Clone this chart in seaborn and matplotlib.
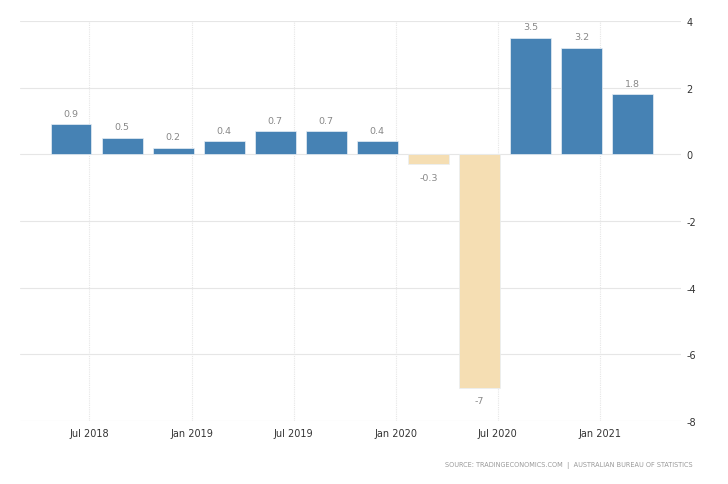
import matplotlib
matplotlib.use("Agg")
import matplotlib.pyplot as plt
import seaborn as sns
import pandas as pd

quarters = ["2018-06", "2018-09", "2018-12", "2019-03", "2019-06", "2019-09",
            "2019-12", "2020-03", "2020-06", "2020-09", "2020-12", "2021-03"]
values = [0.9, 0.5, 0.2, 0.4, 0.7, 0.7, 0.4, -0.3, -7, 3.5, 3.2, 1.8]
value_labels = ["0.9", "0.5", "0.2", "0.4", "0.7", "0.7", "0.4", "-0.3", "-7", "3.5", "3.2", "1.8"]
xtick_labels = ["Jul 2018", "Jan 2019", "Jul 2019", "Jan 2020", "Jul 2020", "Jan 2021"]
xtick_after_bar = [0, 2, 4, 6, 8, 10]
yticks = [4, 2, 0, -2, -4, -6, -8]
source = "SOURCE: TRADINGECONOMICS.COM  |  AUSTRALIAN BUREAU OF STATISTICS"

df = pd.DataFrame({"q": quarters, "v": values})
df["sign"] = ["pos" if v >= 0 else "neg" for v in values]

sns.set_style("white")
plt.rcParams["font.family"] = ["DejaVu Sans"]

fig = plt.figure(figsize=(7.28, 4.85), dpi=100)
ax = fig.add_axes([20 / 728, 1 - 422 / 485, (681 - 20) / 728, 400 / 485])

sns.barplot(data=df, x="q", y="v", hue="sign", dodge=False, width=0.8,
            palette={"pos": "#4682B4", "neg": "#F5DEB3"}, legend=False,
            saturation=1, edgecolor="#e8eef5", linewidth=0.5, ax=ax, zorder=3)

ax.set_ylim(-8, 4)
ax.set_xlim(-1.0, 11.95)
ax.set_yticks(yticks)
ax.set_yticklabels([str(t) for t in yticks])
ax.yaxis.tick_right()
ax.tick_params(axis="y", length=0, pad=4, labelsize=7, labelcolor="#333333")
ax.set_xticks([i + 0.36 for i in xtick_after_bar])
ax.set_xticklabels(xtick_labels)
ax.tick_params(axis="x", length=0, pad=5, labelsize=7, labelcolor="#333333")
ax.set_xlabel("")
ax.set_ylabel("")
for s in ax.spines.values():
    s.set_visible(False)

for y in yticks:
    ax.axhline(y, color="#e6e6e6", lw=0.8, zorder=1)
for i in xtick_after_bar:
    ax.axvline(i + 0.36, color="#e6e6e6", lw=0.8, ls=(0, (1, 1)), zorder=1)

for i, (v, lab) in enumerate(zip(values, value_labels)):
    if v >= 0:
        ax.annotate(lab, (i, v), xytext=(0, 4.5), textcoords="offset points",
                    ha="center", va="bottom", fontsize=6.8, color="#888888")
    else:
        ax.annotate(lab, (i, v), xytext=(0, -6), textcoords="offset points",
                    ha="center", va="top", fontsize=6.8, color="#888888")

fig.text(693 / 728, 1 - 466 / 485, source, ha="right", va="center",
         fontsize=4.7, color="#999999")

fig.savefig("out.png", dpi=100)
